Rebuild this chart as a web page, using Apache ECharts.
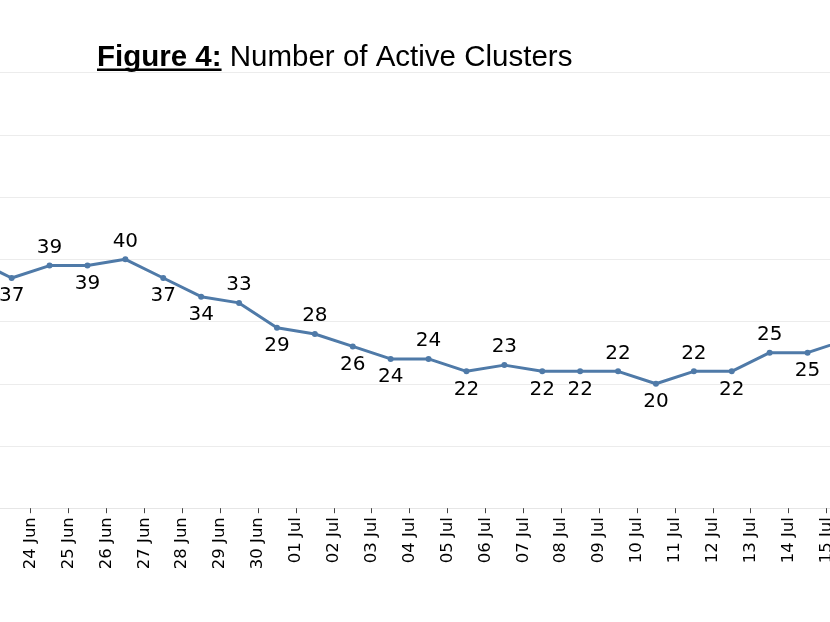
<!DOCTYPE html>
<html>
<head>
<meta charset="utf-8">
<script src="https://cdn.jsdelivr.net/npm/echarts@6/dist/echarts.min.js"></script>
<style>
html,body{margin:0;padding:0;background:#fff;}
#chart{width:830px;height:622px;}
</style>
</head>
<body>
<div id="chart"></div>
<script>
// Point dates (one per plotted value)
var pointDates = ['23 Jun','24 Jun','25 Jun','26 Jun','27 Jun','28 Jun','29 Jun','30 Jun','01 Jul','02 Jul','03 Jul','04 Jul','05 Jul','06 Jul','07 Jul','08 Jul','09 Jul','10 Jul','11 Jul','12 Jul','13 Jul','14 Jul','15 Jul','16 Jul'];
// Number of active clusters
var activeClusters = [40,37,39,39,40,37,34,33,29,28,26,24,24,22,23,22,22,22,20,22,22,25,25,27];
// Tick labels on the date axis
var tickLabels = ['22 Jun','23 Jun','24 Jun','25 Jun','26 Jun','27 Jun','28 Jun','29 Jun','30 Jun','01 Jul','02 Jul','03 Jul','04 Jul','05 Jul','06 Jul','07 Jul','08 Jul','09 Jul','10 Jul','11 Jul','12 Jul','13 Jul','14 Jul','15 Jul','16 Jul'];
// indices whose value label sits above the point
var labelAbove = [2,4,7,9,12,14,17,19,21];

var chart = echarts.init(document.getElementById('chart'));
var lineColor = '#4f7aa8';

var seriesData = activeClusters.map(function(v, i){
  return {value: v, label: {position: labelAbove.indexOf(i) >= 0 ? 'top' : 'bottom'}};
});

var titleFont = '"Liberation Sans", Arial, sans-serif';
var titleSize = 29.5;
var ctx = document.createElement('canvas').getContext('2d');
ctx.font = 'bold ' + titleSize + 'px ' + titleFont;
var underlineW = ctx.measureText('Figure 4:').width;

var option = {
  animation: false,
  backgroundColor: '#ffffff',
  title: {
    left: 97,
    top: 43,
    padding: 0,
    text: '{b|Figure 4:} Number of Active Clusters',
    textStyle: {
      fontFamily: titleFont,
      fontSize: titleSize, fontWeight: 'normal', color: '#000',
      rich: { b: {fontFamily: titleFont, fontSize: titleSize, fontWeight: 'bold', color: '#000'} }
    }
  },
  graphic: [{
    type: 'rect', left: 97, top: 68.5, z: 10,
    shape: {width: underlineW, height: 2.5},
    style: {fill: '#000'}
  }],
  grid: {left: -45.2, right: -34.4, top: 72.7, bottom: 113.8, outerBoundsMode: 'none', containLabel: false},
  xAxis: [{
    type: 'category', data: pointDates, boundaryGap: true, show: false
  }, {
    type: 'category', data: tickLabels, boundaryGap: false, position: 'bottom',
    axisLine: {show: true, lineStyle: {color: '#e6e6e6', width: 1}},
    axisTick: {show: true, length: 5, interval: 0, lineStyle: {color: '#444', width: 1}},
    axisLabel: {interval: 0, rotate: 90, margin: 9, fontFamily: '"DejaVu Sans", Verdana, sans-serif', fontSize: 16.5, color: '#000'},
    splitLine: {show: false}
  }],
  yAxis: {
    type: 'value', min: 0, max: 70, interval: 10,
    axisLabel: {show: false}, axisLine: {show: false}, axisTick: {show: false},
    splitLine: {lineStyle: {color: '#ececec', width: 1}}
  },
  series: [{
    type: 'line', xAxisIndex: 0, data: seriesData,
    symbol: 'circle', symbolSize: 6,
    lineStyle: {color: lineColor, width: 3},
    itemStyle: {color: lineColor},
    label: {show: true, distance: 5, fontFamily: '"DejaVu Sans", Verdana, sans-serif', fontSize: 20, color: '#000'},
    labelLayout: {hideOverlap: false}
  }]
};
chart.setOption(option);
</script>
</body>
</html>
